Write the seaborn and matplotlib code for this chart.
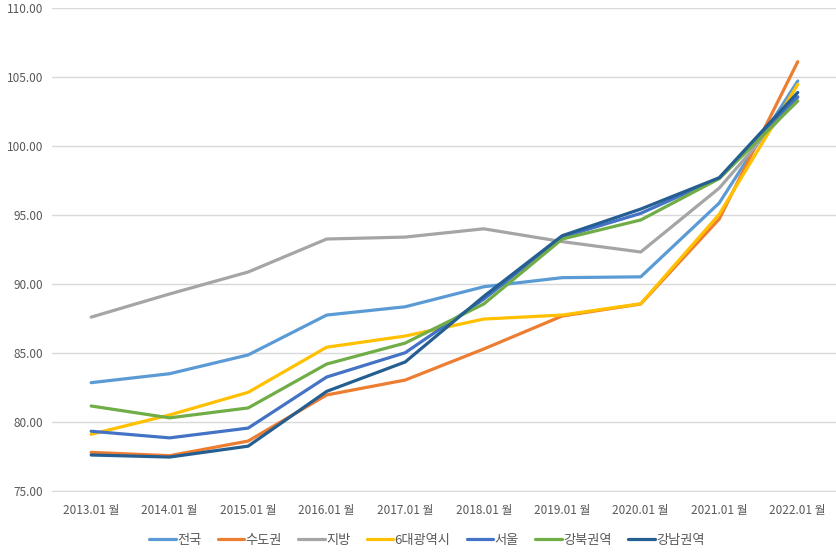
import pandas as pd
import matplotlib.pyplot as plt
import seaborn as sns

# 연도별 지수
years = ["2013.01 월", "2014.01 월", "2015.01 월", "2016.01 월", "2017.01 월",
         "2018.01 월", "2019.01 월", "2020.01 월", "2021.01 월", "2022.01 월"]
regions = ["전국", "수도권", "지방", "6대광역시", "서울", "강북권역", "강남권역"]

national = [82.85, 83.50, 84.86, 87.75, 88.35, 89.80, 90.46, 90.52, 95.87, 104.71]
capital = [77.80, 77.56, 78.62, 81.96, 83.04, 85.29, 87.68, 88.55, 94.71, 106.11]
provinces = [87.60, 89.28, 90.87, 93.26, 93.40, 94.00, 93.07, 92.32, 96.95, 103.50]
metro6 = [79.11, 80.51, 82.15, 85.42, 86.23, 87.46, 87.75, 88.57, 95.05, 104.47]
seoul = [79.33, 78.85, 79.56, 83.26, 85.02, 88.90, 93.40, 95.12, 97.66, 103.57]
gangbuk = [81.16, 80.30, 81.02, 84.20, 85.72, 88.55, 93.26, 94.64, 97.64, 103.26]
gangnam = [77.61, 77.46, 78.25, 82.22, 84.35, 89.10, 93.50, 95.43, 97.70, 103.88]

colors = ["#5B9BD5", "#ED7D31", "#A5A5A5", "#FFC000", "#4472C4", "#70AD47", "#255E91"]

series = [national, capital, provinces, metro6, seoul, gangbuk, gangnam]
rows = []
for name, vals in zip(regions, series):
    for y, v in zip(years, vals):
        rows.append({"year": y, "region": name, "value": v})
df = pd.DataFrame(rows)

sns.set_style("white")
plt.rcParams["font.family"] = ["Noto Sans CJK KR", "DejaVu Sans"]

fig = plt.figure(figsize=(8.37, 5.52), dpi=100)
ax = fig.add_axes([0.062, 0.1105, 0.938, 0.875])

sns.lineplot(data=df, x="year", y="value", hue="region", hue_order=regions,
             palette=colors, linewidth=2.3, sort=False, ax=ax, legend=True)

ax.set_xlim(-0.5, len(years) - 0.5)
ax.set_ylim(75, 110)
ax.set_yticks([75, 80, 85, 90, 95, 100, 105, 110])
ax.set_yticklabels([f"{t:.2f}" for t in ax.get_yticks()])
ax.yaxis.grid(True, color="#D9D9D9", linewidth=1)
ax.set_axisbelow(True)
for s in ax.spines.values():
    s.set_visible(False)
ax.spines["bottom"].set_visible(True)
ax.spines["bottom"].set_color("#D9D9D9")
ax.tick_params(axis="both", length=0, labelsize=8.5, labelcolor="#595959", pad=6)
ax.tick_params(axis="x", pad=9)
ax.set_xlabel("")
ax.set_ylabel("")

handles, labels = ax.get_legend_handles_labels()
ax.legend_.remove()
fig.legend(handles, labels, loc="lower center", bbox_to_anchor=(0.51, -0.012),
           ncol=7, frameon=False, fontsize=9.5, handlelength=2.0,
           handletextpad=0.1, columnspacing=1.25, labelcolor="#595959")

fig.savefig("out.png", dpi=100)
